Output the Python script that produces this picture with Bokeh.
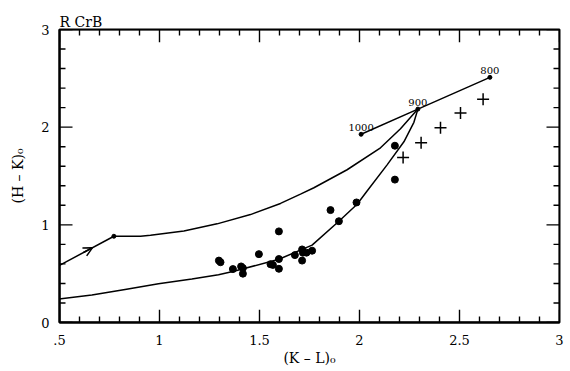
from bokeh.plotting import figure
from bokeh.models import Range1d, FixedTicker, LinearAxis, Arrow, OpenHead, ColumnDataSource
from bokeh.core.properties import value
from bokeh.embed import file_html
from bokeh.resources import INLINE
import numpy as np

# ---- data ----
upper_x = [0.50, 0.772, 0.905, 0.955, 1.122, 1.288, 1.455, 1.605, 1.705, 1.772, 1.938, 2.105, 2.205, 2.292]
upper_y = [0.585, 0.883, 0.883, 0.893, 0.937, 1.010, 1.105, 1.219, 1.315, 1.380, 1.564, 1.789, 1.984, 2.185]
upper_dot_x = [0.772]
upper_dot_y = [0.883]

lower_x = [0.495, 0.662, 0.828, 0.995, 1.162, 1.295, 1.372, 1.597, 1.763, 1.897, 1.988, 2.038, 2.138, 2.222, 2.272, 2.292]
lower_y = [0.239, 0.282, 0.339, 0.396, 0.446, 0.490, 0.524, 0.648, 0.792, 1.037, 1.210, 1.346, 1.614, 1.850, 2.050, 2.185]

temp_labels = ["1000", "900", "800"]
temp_x = [2.008, 2.292, 2.652]
temp_y = [1.927, 2.185, 2.510]

dots_x = [1.297, 1.305, 1.367, 1.408, 1.417, 1.417, 1.497, 1.555, 1.567, 1.597, 1.597, 1.597,
          1.677, 1.713, 1.717, 1.735, 1.713, 1.763, 1.855, 1.897, 1.985, 2.177, 2.177]
dots_y = [0.634, 0.617, 0.547, 0.574, 0.557, 0.500, 0.700, 0.597, 0.590, 0.933, 0.650, 0.550,
          0.690, 0.748, 0.715, 0.715, 0.634, 0.735, 1.151, 1.037, 1.229, 1.463, 1.810]

plus_x = [2.218, 2.308, 2.405, 2.505, 2.618]
plus_y = [1.689, 1.840, 1.994, 2.145, 2.286]

arrow_x = [0.62, 0.665]
arrow_y = [0.717, 0.766]

x_ticks = [0.5, 1, 1.5, 2, 2.5, 3]
x_tick_labels = [".5", "1", "1.5", "2", "2.5", "3"]
y_ticks = [0, 1, 2, 3]
y_tick_labels = ["0", "1", "2", "3"]

title_text = "R CrB"
x_label = "(K \u2013 L)\u2080"
y_label = "(H \u2013 K)\u2080"

FONT = "DejaVu Serif"
X0, X1 = 0.5, 3.0
Y0, Y1 = 0.0, 3.0
W, H = 568, 368
BL, BR, BT, BB = 59, 9, 29, 41

p = figure(width=W, height=H, output_backend="svg", toolbar_location=None,
           x_range=Range1d(X0, X1), y_range=Range1d(Y0, Y1),
           x_axis_type=None, y_axis_type=None,
           min_border_left=BL, min_border_right=BR, min_border_top=BT, min_border_bottom=BB)
p.outline_line_color = "black"
p.outline_line_width = 2
p.background_fill_color = "white"
p.border_fill_color = "white"

p.title.text = title_text
p.title.align = "left"
p.title.text_font = FONT
p.title.text_font_size = "14px"
p.title.text_font_style = "normal"
p.title.text_color = "black"
p.title.standoff = 0

bottom = LinearAxis(axis_label=x_label)
left = LinearAxis(axis_label=y_label)
p.add_layout(bottom, "below")
p.add_layout(left, "left")

for ax, ticks in [(bottom, x_ticks), (left, y_ticks)]:
    ax.ticker = FixedTicker(ticks=ticks, minor_ticks=[])
    ax.axis_line_width = 2
    ax.axis_line_color = "black"
    ax.major_tick_line_color = None
    ax.minor_tick_line_color = None
    ax.major_label_text_font = FONT
    ax.major_label_text_font_size = "13px"
    ax.major_label_text_color = "black"
    ax.axis_label_text_font = FONT
    ax.axis_label_text_font_size = "14px"
    ax.axis_label_text_font_style = "normal"
    ax.axis_label_text_color = "black"

bottom.major_label_overrides = {t: l for t, l in zip(x_ticks, x_tick_labels)}
left.major_label_overrides = {t: l for t, l in zip(y_ticks, y_tick_labels)}
bottom.major_label_standoff = 6
left.major_label_standoff = 4
bottom.axis_label_standoff = 2
left.axis_label_standoff = 12

# tick marks inside the frame on all four sides: one comb-shaped polyline per side
px_x = (X1 - X0) / (W - BL - BR)
px_y = (Y1 - Y0) / (H - BT - BB)
MAJ, MIN = 13, 6
xt = [(float(v), MAJ if any(abs(v - t) < 1e-6 for t in x_ticks) else MIN)
      for v in np.round(np.arange(X0, X1 + 1e-6, 0.1), 2)]
yt = [(float(v), MAJ if any(abs(v - t) < 1e-6 for t in y_ticks) else MIN)
      for v in np.round(np.arange(Y0, Y1 + 1e-6, 0.2), 2)]

for base, sign in [(Y0, 1), (Y1, -1)]:
    cx, cy = [], []
    for v, L in xt:
        cx += [v, v, v]
        cy += [base, base + sign * L * px_y, base]
    p.line(cx, cy, line_color="black", line_width=1.4)
for base, sign in [(X0, 1), (X1, -1)]:
    cx, cy = [], []
    for v, L in yt:
        cx += [base, base + sign * L * px_x, base]
        cy += [v, v, v]
    p.line(cx, cy, line_color="black", line_width=1.4)

# curves
p.line(upper_x, upper_y, line_color="black", line_width=1.5)
p.line(lower_x, lower_y, line_color="black", line_width=1.5)
p.scatter(upper_dot_x, upper_dot_y, size=4, color="black")

# temperature line
p.line(temp_x, temp_y, line_color="black", line_width=1.5)
p.scatter(temp_x, temp_y, size=4, color="black")
src = ColumnDataSource(dict(x=temp_x, y=temp_y, t=temp_labels))
p.text(x="x", y="y", text="t", source=src, text_font_size="10px",
       text_align="center", text_baseline="bottom", y_offset=-3, text_color="black",
       text_font=value(FONT))

# data points
p.scatter(dots_x, dots_y, size=7, color="black")
p.scatter(plus_x, plus_y, marker="cross", size=12, line_color="black", line_width=1.5)

# arrow
p.add_layout(Arrow(end=OpenHead(size=9, line_width=1.5, line_color="black"),
                   x_start=arrow_x[0], y_start=arrow_y[0], x_end=arrow_x[1], y_end=arrow_y[1],
                   line_width=1.5, line_color="black"))

open("out.html", "w").write(file_html(p, INLINE))
